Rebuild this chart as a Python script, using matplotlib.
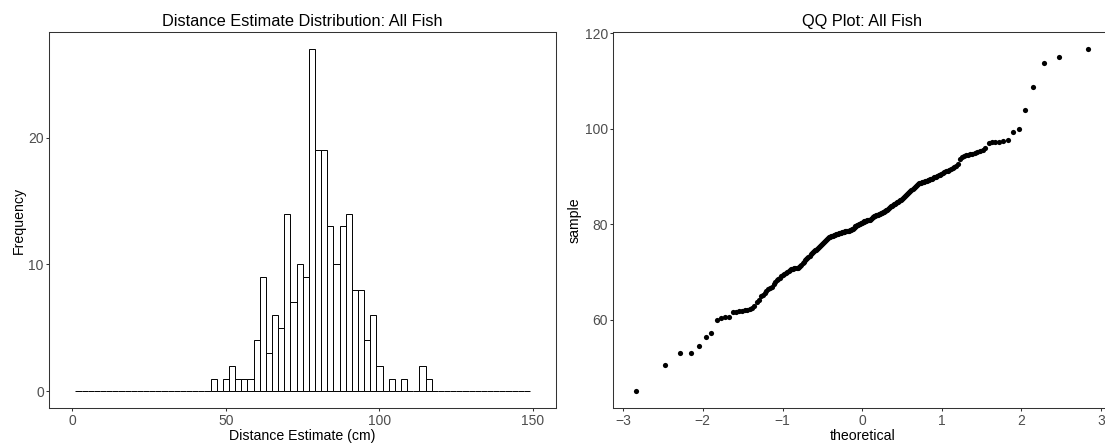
import numpy as np
import matplotlib
matplotlib.use("Agg")
import matplotlib.pyplot as plt
from statistics import NormalDist

# -------------------------------------------------------------
# Data: distance estimates (cm), all fish, sorted
# -------------------------------------------------------------
dist_low = [45.0, 50.4, 52.9, 52.9, 54.4, 56.3, 57.2,
            60.0, 60.4, 60.5, 60.6]
dist_61_69 = [61.5, 61.6, 61.7, 61.8, 62.0, 62.1, 62.3, 62.5, 62.8,
              63.6, 64.2, 64.9,
              65.2, 65.6, 66.0, 66.4, 66.6, 66.8,
              67.4, 67.8, 68.2, 68.5, 68.8]
dist_69_77 = [69.1, 69.3, 69.6, 69.8, 70.0, 70.2, 70.4, 70.5, 70.6, 70.7,
              70.8, 70.8, 70.9, 70.95,
              71.2, 71.5, 71.8, 72.1, 72.4, 72.6, 72.9,
              73.1, 73.4, 73.7, 73.9, 74.1, 74.3, 74.5, 74.6, 74.8, 74.95,
              75.2, 75.5, 75.7, 75.9, 76.1, 76.3, 76.5, 76.7, 76.9]
dist_77_81 = [77.1, 77.2, 77.3, 77.4, 77.5, 77.6, 77.7, 77.8, 77.9, 77.95,
              78.0, 78.1, 78.15, 78.2, 78.25, 78.3, 78.35, 78.4, 78.45,
              78.5, 78.55, 78.6, 78.65, 78.7, 78.8, 78.9, 78.95,
              79.1, 79.3, 79.5, 79.7, 79.8, 79.9, 80.0, 80.1, 80.2, 80.3,
              80.4, 80.5, 80.55, 80.6, 80.7, 80.75, 80.8, 80.9, 80.95]
dist_81_89 = [81.1, 81.3, 81.4, 81.5, 81.6, 81.7, 81.8, 81.9, 82.0, 82.1,
              82.2, 82.3, 82.4, 82.5, 82.6, 82.7, 82.8, 82.9, 82.95,
              83.1, 83.3, 83.5, 83.7, 83.8, 84.0, 84.1, 84.3, 84.4, 84.6,
              84.7, 84.8, 84.95,
              85.1, 85.3, 85.5, 85.7, 85.9, 86.1, 86.3, 86.5, 86.7, 86.9,
              87.1, 87.3, 87.5, 87.8, 88.0, 88.2, 88.4, 88.6, 88.7, 88.8,
              88.85, 88.9, 88.95]
dist_89_97 = [89.1, 89.2, 89.3, 89.4, 89.5, 89.6, 89.8, 89.9, 90.0, 90.2,
              90.3, 90.5, 90.7, 90.9,
              91.05, 91.1, 91.3, 91.5, 91.7, 91.9, 92.1, 92.6,
              93.7, 94.0, 94.2, 94.4, 94.5, 94.6, 94.7, 94.8,
              95.1, 95.4, 95.6, 95.9]
dist_high = [97.05, 97.1, 97.2, 97.25, 97.3, 97.6,
             99.3, 100.0, 103.8, 108.7, 113.8, 114.9, 116.7]

distances = np.array(dist_low + dist_61_69 + dist_69_77 + dist_77_81
                     + dist_81_89 + dist_89_97 + dist_high)

bin_edges = np.arange(1, 151, 2)
hist_xticks = [0, 50, 100, 150]
hist_yticks = [0, 10, 20]
qq_xticks = [-3, -2, -1, 0, 1, 2, 3]
qq_yticks = [60, 80, 100, 120]

# -------------------------------------------------------------
# Style
# -------------------------------------------------------------
plt.rcParams['font.family'] = ['Liberation Sans', 'DejaVu Sans']
frame_col = '#333333'
tick_col = '#4D4D4D'


def style_axes(ax):
    for sp in ax.spines.values():
        sp.set_color(frame_col)
        sp.set_linewidth(0.75)
    ax.tick_params(length=2.4, width=0.75, color=frame_col, pad=1.5,
                   labelsize=10, labelcolor=tick_col)


fig = plt.figure(figsize=(11.05, 4.48), dpi=100)

# -------------------------------------------------------------
# Histogram
# -------------------------------------------------------------
ax1 = fig.add_axes([0.0446, 0.0886, 0.4586, 0.8406])
counts, _, _ = ax1.hist(distances, bins=bin_edges, facecolor='white',
                        edgecolor='black', linewidth=0.7)
ax1.set_xlim(-7.5, 157.5)
top = counts.max()
ax1.set_ylim(-0.05 * top, 1.05 * top)
ax1.set_xticks(hist_xticks)
ax1.set_yticks(hist_yticks)
ax1.set_title("Distance Estimate Distribution: All Fish", fontsize=11.8, pad=4)
ax1.set_xlabel("Distance Estimate (cm)", fontsize=10.2, labelpad=1)
ax1.set_ylabel("Frequency", fontsize=10.2, labelpad=2)
style_axes(ax1)

# -------------------------------------------------------------
# QQ plot
# -------------------------------------------------------------
n = len(distances)
sample = np.sort(distances)
theoretical = np.array([NormalDist().inv_cdf((i - 0.5) / n) for i in range(1, n + 1)])

ax2 = fig.add_axes([0.555, 0.0886, 0.4505, 0.8406])
ax2.scatter(theoretical, sample, s=14, color='black', linewidths=0)
tmax = np.abs(theoretical).max() * 1.1
ax2.set_xlim(-tmax, tmax)
rng = sample.max() - sample.min()
ax2.set_ylim(sample.min() - 0.05 * rng, sample.max() + 0.05 * rng)
ax2.set_xticks(qq_xticks)
ax2.set_yticks(qq_yticks)
ax2.set_title("QQ Plot: All Fish", fontsize=11.8, pad=4)
ax2.set_xlabel("theoretical", fontsize=10.2, labelpad=1)
ax2.set_ylabel("sample", fontsize=10.2, labelpad=2)
style_axes(ax2)

fig.savefig("out.png", dpi=100)
